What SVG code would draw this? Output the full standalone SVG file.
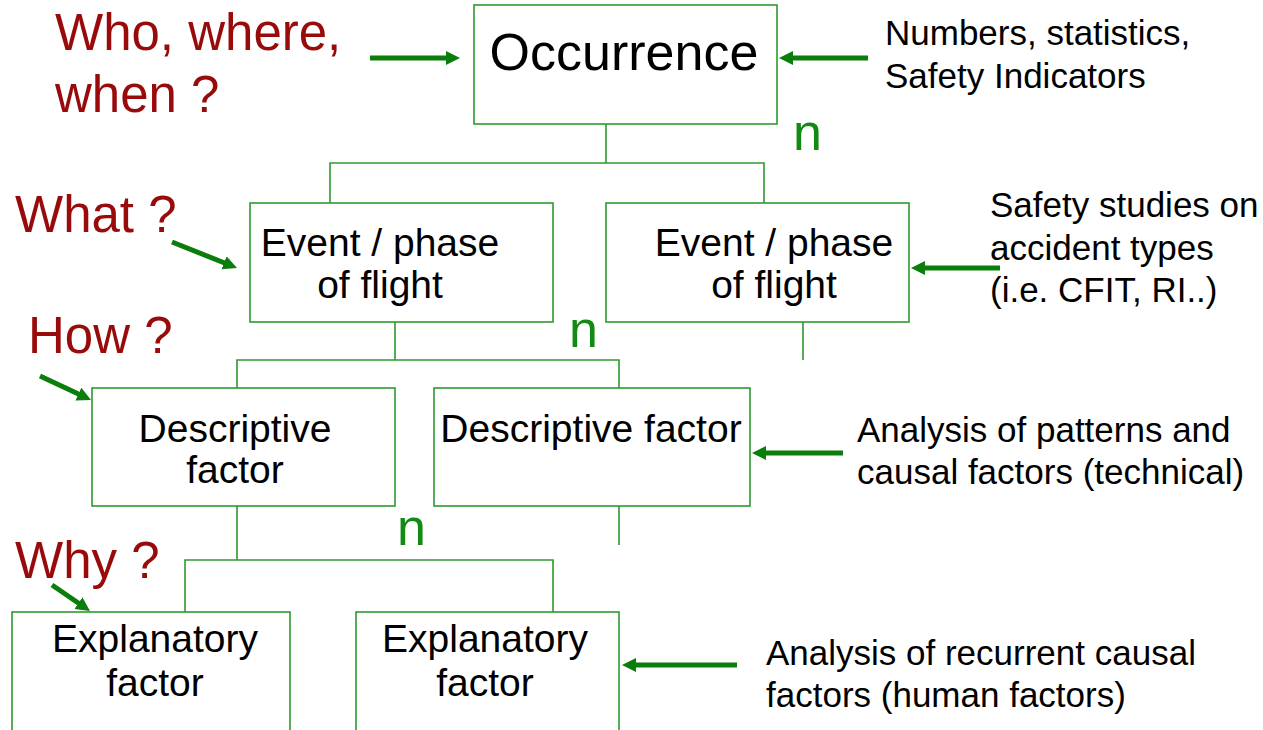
<svg xmlns="http://www.w3.org/2000/svg" width="1263" height="730" viewBox="0 0 1263 730">
<style>
.box{fill:#fff;stroke:#2f9a2f;stroke-width:1.6}
.con{fill:none;stroke:#2f9a2f;stroke-width:1.6}
.arr{fill:none;stroke:#0b7d0b;stroke-width:5}
.nt{font-family:"Liberation Sans",Arial,sans-serif;font-size:39px;fill:#000;text-anchor:middle}
.side{font-family:"Liberation Sans",Arial,sans-serif;font-size:35px;fill:#000}
.q{font-family:"Liberation Sans",Arial,sans-serif;font-size:51px;fill:#990a0a}
.n{font-family:"Liberation Sans",Arial,sans-serif;font-size:52px;fill:#138a13}
</style>
<defs>
<marker id="ah" markerUnits="userSpaceOnUse" markerWidth="16" markerHeight="16" refX="6" refY="7" orient="auto">
<path d="M0,0 L14,7 L0,14 z" fill="#0b7d0b"/>
</marker>
</defs>
<rect width="1263" height="730" fill="#fff"/>
<g id="connectors">
<path class="con" d="M606,124 V163 M330,203 V163 H764 V203"/>
<path class="con" d="M395,322 V360 M237,388 V360 H619 V388 M803,322 V360"/>
<path class="con" d="M237,506 V560 M185,612 V560 H553 V612 M619,506 V545"/>
<line class="arr" x1="370" y1="58" x2="452" y2="58" marker-end="url(#ah)"/>
<line class="arr" x1="868" y1="58" x2="787" y2="58" marker-end="url(#ah)"/>
<line class="arr" x1="172" y1="242" x2="229.6" y2="265" marker-end="url(#ah)"/>
<line class="arr" x1="1000" y1="268" x2="919" y2="268" marker-end="url(#ah)"/>
<line class="arr" x1="40" y1="376" x2="83.8" y2="396.6" marker-end="url(#ah)"/>
<line class="arr" x1="843" y1="453" x2="760" y2="453" marker-end="url(#ah)"/>
<line class="arr" x1="52" y1="585" x2="83.4" y2="606.5" marker-end="url(#ah)"/>
<line class="arr" x1="737" y1="665" x2="630" y2="665" marker-end="url(#ah)"/>
</g>
<g id="occurrence">
<rect class="box" x="474" y="5" width="303" height="119"/>
<text class="nt" x="624" y="70" style="font-size:52px">Occurrence</text>
</g>
<g id="event1">
<rect class="box" x="250" y="203" width="303" height="119"/>
<text class="nt" x="380" y="256">Event / phase</text>
<text class="nt" x="380" y="298">of flight</text>
</g>
<g id="event2">
<rect class="box" x="606" y="203" width="303" height="119"/>
<text class="nt" x="774" y="256">Event / phase</text>
<text class="nt" x="774" y="298">of flight</text>
</g>
<g id="desc1">
<rect class="box" x="92" y="388" width="303" height="118"/>
<text class="nt" x="235" y="442">Descriptive</text>
<text class="nt" x="235" y="483">factor</text>
</g>
<g id="desc2">
<rect class="box" x="434" y="388" width="316" height="118"/>
<text class="nt" x="591" y="442">Descriptive factor</text>
</g>
<g id="expl1">
<rect class="box" x="12" y="612" width="278" height="130"/>
<text class="nt" x="155" y="652">Explanatory</text>
<text class="nt" x="155" y="696">factor</text>
</g>
<g id="expl2">
<rect class="box" x="356" y="612" width="263" height="130"/>
<text class="nt" x="485" y="652">Explanatory</text>
<text class="nt" x="485" y="696">factor</text>
</g>
<g id="labels">
<text class="q" x="55" y="50">Who, where,</text>
<text class="q" x="55" y="112">when ?</text>
<text class="q" x="15" y="232">What ?</text>
<text class="q" x="28" y="353">How ?</text>
<text class="q" x="15" y="578">Why ?</text>
<text class="n" x="793" y="150">n</text>
<text class="n" x="569" y="347">n</text>
<text class="n" x="397" y="545">n</text>
<text class="side" x="885" y="45">Numbers, statistics,</text>
<text class="side" x="885" y="88">Safety Indicators</text>
<text class="side" x="990" y="217">Safety studies on</text>
<text class="side" x="990" y="260">accident types</text>
<text class="side" x="990" y="302">(i.e. CFIT, RI..)</text>
<text class="side" x="857" y="442">Analysis of patterns and</text>
<text class="side" x="857" y="484">causal  factors (technical)</text>
<text class="side" x="766" y="665">Analysis of recurrent causal</text>
<text class="side" x="766" y="707">factors (human  factors)</text>
</g>
</svg>
